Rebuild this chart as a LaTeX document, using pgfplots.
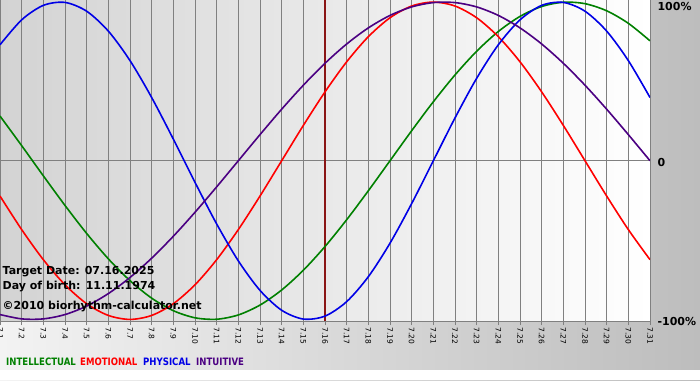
\documentclass[border=0pt]{standalone}
\usepackage{pgfplots}
\pgfplotsset{compat=1.18}
\usepackage{pgfplotstable}
\usepackage{fontspec}
\setmainfont{DejaVu Sans}
\newfontfamily\legfont{DejaVu Sans}[FakeStretch=0.84]
\definecolor{bgL}{HTML}{F3F3F3}
\definecolor{bgR}{HTML}{BDBDBD}
\definecolor{plotL}{HTML}{D3D3D3}
\definecolor{gridc}{HTML}{808080}
\definecolor{redline}{HTML}{8A1515}
\definecolor{intelc}{HTML}{008000}
\definecolor{emoc}{HTML}{FF0000}
\definecolor{physc}{HTML}{0000E6}
\definecolor{intuc}{HTML}{4B0082}

\pgfplotstableread{
day phys emo intel intu
1 73.08 -22.25 28.17 -96.94
2 88.79 -43.39 9.51 -99.66
3 97.91 -62.35 -9.51 -99.66
4 99.77 -78.18 -28.17 -96.94
5 94.23 -90.10 -45.82 -91.58
6 81.70 -97.49 -61.82 -83.72
7 63.11 -100 -75.57 -73.57
8 39.84 -97.49 -86.60 -61.42
9 13.62 -90.10 -94.50 -47.59
10 -13.62 -78.18 -98.98 -32.47
11 -39.84 -62.35 -99.89 -16.46
12 -63.11 -43.39 -97.18 0
13 -81.70 -22.25 -90.96 16.46
14 -94.23 0 -81.46 32.47
15 -99.77 22.25 -69.01 47.59
16 -97.91 43.39 -54.06 61.42
17 -88.79 62.35 -37.17 73.57
18 -73.08 78.18 -18.93 83.72
19 -51.96 90.10 0 91.58
20 -26.98 97.49 18.93 96.94
21 0 100 37.17 99.66
22 26.98 97.49 54.06 99.66
23 51.96 90.10 69.01 96.94
24 73.08 78.18 81.46 91.58
25 88.79 62.35 90.96 83.72
26 97.91 43.39 97.18 73.57
27 99.77 22.25 99.89 61.42
28 94.23 0 98.98 47.59
29 81.70 -22.25 94.50 32.47
30 63.11 -43.39 86.60 16.46
31 39.84 -62.35 75.57 0
}\biodata

\begin{document}
\begin{tikzpicture}
\path[use as bounding box] (0pt,-59pt) rectangle (700pt,321pt);
\fill[left color=bgL, right color=bgR] (0pt,-59pt) rectangle (700pt,321pt);
\fill[white] (0pt,-59pt) rectangle (700pt,-49pt);
\begin{axis}[
  at={(0pt,0pt)}, anchor=south west,
  scale only axis, width=650pt, height=321pt,
  xmin=1, xmax=31, ymin=-101, ymax=101.3,
  axis x line=bottom, axis y line=right,
  axis line style={-, draw=gridc, line width=0.8pt},
  xtick={1,...,31},
  xticklabels={7.1,7.2,7.3,7.4,7.5,7.6,7.7,7.8,7.9,7.10,7.11,7.12,7.13,7.14,7.15,7.16,7.17,7.18,7.19,7.20,7.21,7.22,7.23,7.24,7.25,7.26,7.27,7.28,7.29,7.30,7.31},
  xmajorgrids,
  grid style={gridc, line width=0.8pt},
  tick align=outside,
  major tick length=4pt,
  x tick style={gridc, line width=0.8pt},
  y tick style={draw=none},
  xticklabel style={rotate=-90, anchor=west, font=\fontsize{7.5}{8}\selectfont, inner xsep=2.5pt, inner ysep=0pt},
  ytick={-100,0,100},
  yticklabels={{-100\%},{0},{\smash{\raisebox{-6.5pt}{100\%}}}},
  yticklabel style={anchor=west, font=\bfseries\fontsize{11}{12}\selectfont, yshift=-2pt},
  axis background/.style={shade, left color=plotL, right color=white},
]
\addplot[gridc, line width=0.8pt] coordinates {(1,0) (31,0)};
\addplot[redline, line width=2pt] coordinates {(16,-101) (16,101.3)};
\addplot[intelc, line width=1.6pt, smooth] table[x=day, y=intel] {\biodata};
\addplot[emoc, line width=1.6pt, smooth] table[x=day, y=emo] {\biodata};
\addplot[physc, line width=1.6pt, smooth] table[x=day, y=phys] {\biodata};
\addplot[intuc, line width=1.6pt, smooth] table[x=day, y=intu] {\biodata};
\end{axis}
\begin{scope}[every node/.style={anchor=west, inner sep=0pt, font=\bfseries\fontsize{11}{12}\selectfont}]
\node at (2.5pt,49.5pt) {Target Date: 07.16.2025};
\node at (2.5pt,34pt) {Day of birth: 11.11.1974};
\node at (2.5pt,14.3pt) {\textcopyright2010 biorhythm-calculator.net};
\end{scope}
\begin{scope}[every node/.style={anchor=west, inner sep=0pt, font=\legfont\bfseries\fontsize{10.2}{11}\selectfont}]
\node[text=intelc] at (6pt,-41pt) {INTELLECTUAL};
\node[text=emoc] at (80pt,-41pt) {EMOTIONAL};
\node[text=physc] at (143pt,-41pt) {PHYSICAL};
\node[text=intuc] at (196pt,-41pt) {INTUITIVE};
\end{scope}
\end{tikzpicture}
\end{document}
